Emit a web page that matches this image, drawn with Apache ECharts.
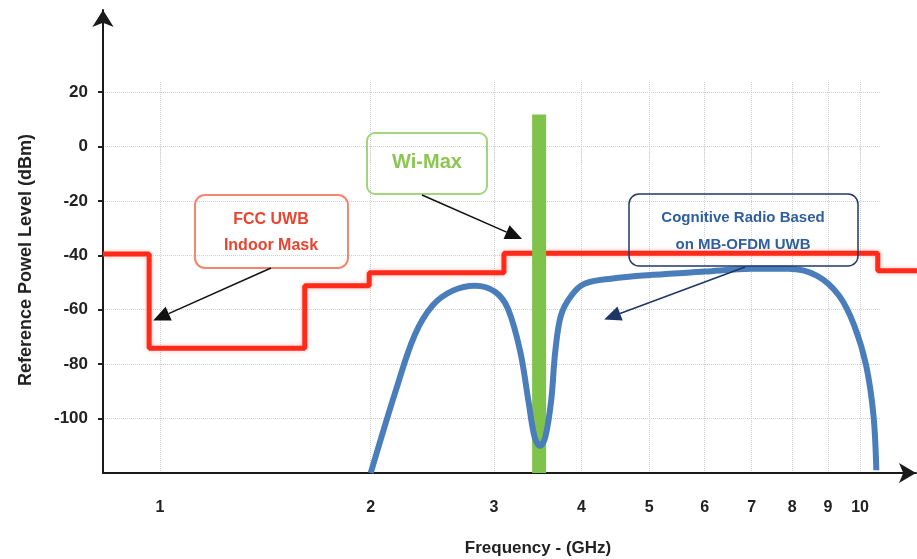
<!DOCTYPE html>
<html><head><meta charset="utf-8">
<script src="https://cdn.jsdelivr.net/npm/echarts@6/dist/echarts.min.js"></script>
<style>html,body{margin:0;padding:0;background:#fff}#c{width:917px;height:559px}</style>
</head><body><div id="c"></div>
<script>
// ---- data ----
const freqTicks = [1, 2, 3, 4, 5, 6, 7, 8, 9, 10];          // GHz
const levelTicks = [-100, -80, -60, -40, -20, 0, 20];        // dBm
// FCC UWB indoor mask (step, value holds until next frequency)
const maskFreq  = [0.829, 0.965, 1.61, 1.99, 3.1, 10.6, 12.1];
const maskLevel = [-39.5, -74.2, -51.2, -46.4, -39.3, -45.7, -45.7];
// Cognitive radio MB-OFDM UWB spectrum
const crFreq  = [2.0, 2.17, 2.31, 2.45, 2.62, 2.82, 3.01, 3.14, 3.27, 3.36, 3.43, 3.49, 3.55, 3.62, 3.67, 3.74, 3.87, 4.04, 4.41, 5.06, 6.0, 7.0, 7.9, 8.67, 9.33, 9.81, 10.2, 10.45, 10.55];
const crLevel = [-120, -90, -69.5, -58.5, -53, -51.2, -53.4, -59.6, -75.3, -93.6, -107, -110, -107, -93.6, -75.3, -62, -54.8, -50.5, -48.6, -47.2, -46, -45, -45, -47.5, -54.8, -65.8, -80.4, -98.7, -119];
// Wi-Max band
const wimaxFreq  = [3.48, 3.48];
const wimaxLevel = [-120, 11.7];

const zip = (a, b) => a.map((v, i) => [v, b[i]]);
const FONT = 'Liberation Sans';
const chart = echarts.init(document.getElementById('c'), null, {renderer: 'canvas'});

const hiddenAxis = (grid) => ({
  type: 'value', gridIndex: grid, min: 0, max: 1, show: true,
  axisLine: {show: false}, axisTick: {show: false}, axisLabel: {show: false}, splitLine: {show: false}
});

const option = {
  animation: false,
  backgroundColor: '#fff',
  grid: [
    {left: 103, right: 0, top: 82, bottom: 86},   // data
    {left: 103, right: 1, top: 10, bottom: 86},   // axis lines with arrows
    {left: 103, right: 37, top: 82, bottom: 86}   // horizontal grid lines
  ],
  xAxis: [
    {
      type: 'log', logBase: 10, gridIndex: 0,
      min: 0.8291, max: 12.06,
      axisLine: {show: false},
      axisTick: {show: true, customValues: freqTicks, length: 18, lineStyle: {color: '#d0d0d0', type: 'dotted'}},
      axisLabel: {customValues: freqTicks, margin: 27, color: '#222', fontFamily: FONT, fontSize: 16, fontWeight: 'bold'},
      splitLine: {show: true, lineStyle: {color: '#cfcfcf', type: 'dotted', width: 1}},
      minorTick: {show: false}, minorSplitLine: {show: false}
    },
    {
      type: 'value', gridIndex: 1, min: 0, max: 1,
      axisLine: {show: true, onZero: false, symbol: ['none', 'arrow'], symbolSize: [15, 17], lineStyle: {color: '#1a1a1a', width: 2}},
      axisTick: {show: false}, axisLabel: {show: false}, splitLine: {show: false}
    },
    hiddenAxis(2)
  ],
  yAxis: [
    {
      type: 'value', gridIndex: 0,
      min: -120, max: 23.66,
      axisLine: {show: false},
      axisTick: {show: true, customValues: levelTicks, length: 5, inside: false, lineStyle: {color: '#222', width: 2}},
      axisLabel: {customValues: levelTicks, margin: 15, color: '#222', fontFamily: FONT, fontSize: 17, fontWeight: 'bold'},
      splitLine: {show: false}
    },
    {
      type: 'value', gridIndex: 1, min: 0, max: 1,
      axisLine: {show: true, onZero: false, symbol: ['none', 'arrow'], symbolSize: [16, 17], lineStyle: {color: '#1a1a1a', width: 2}},
      axisTick: {show: false}, axisLabel: {show: false}, splitLine: {show: false}
    },
    {
      type: 'value', gridIndex: 2, min: -120, max: 23.66,
      axisLine: {show: false}, axisTick: {show: false, customValues: levelTicks}, axisLabel: {show: false, customValues: levelTicks},
      splitLine: {show: true, lineStyle: {color: '#cfcfcf', type: 'dotted', width: 1}}
    }
  ],
  series: [
    {
      name: 'FCC UWB Indoor Mask', type: 'line', xAxisIndex: 0, yAxisIndex: 0,
      data: zip(maskFreq, maskLevel), step: 'end', showSymbol: false, clip: false,
      lineStyle: {color: '#ff2a1a', width: 5, shadowColor: 'rgba(255,60,40,0.35)', shadowBlur: 4},
      z: 2
    },
    {
      name: 'Wi-Max', type: 'line', xAxisIndex: 0, yAxisIndex: 0,
      data: zip(wimaxFreq, wimaxLevel), showSymbol: false, clip: false,
      lineStyle: {color: '#7fc34a', width: 14, cap: 'butt'},
      z: 3
    },
    {
      name: 'Cognitive Radio Based on MB-OFDM UWB', type: 'line', xAxisIndex: 0, yAxisIndex: 0,
      data: zip(crFreq, crLevel), smooth: 0.35, showSymbol: false, clip: false,
      lineStyle: {color: '#4a7ebb', width: 6},
      z: 4
    }
  ]
};
chart.setOption(option);

const px = (f, v) => chart.convertToPixel({xAxisIndex: 0, yAxisIndex: 0}, [f, v]);

function arrow(x1, y1, x2, y2, color, w) {
  const ang = Math.atan2(y2 - y1, x2 - x1);
  const L = 17, H = 7.5;
  const bx = x2 - L * Math.cos(ang), by = y2 - L * Math.sin(ang);
  const nx = -Math.sin(ang), ny = Math.cos(ang);
  return [
    {type: 'line', shape: {x1, y1, x2: bx, y2: by}, style: {stroke: color, lineWidth: w}, z: 20},
    {type: 'polygon', shape: {points: [[x2, y2], [bx + nx * H, by + ny * H], [bx - nx * H, by - ny * H]]}, style: {fill: color}, z: 20}
  ];
}
function box(x, y, w, h, r, stroke, lw) {
  return {type: 'rect', shape: {x, y, width: w, height: h, r}, style: {fill: 'none', stroke, lineWidth: lw}, z: 15};
}
function txt(x, y, t, color, size, rot) {
  return {type: 'text', x, y, rotation: rot || 0, style: {text: t, fill: color, font: 'bold ' + size + 'px "' + FONT + '"', textAlign: 'center', textVerticalAlign: 'middle'}, z: 16};
}

const fccTip = px(0.965, -64);
const wmTip = px(3.48, -34);
const crTip = px(4.31, -63.6);

const graphics = [
  box(195, 195, 153, 73, 10, '#f2866f', 2),
  txt(271, 220, 'FCC UWB', '#e8442f', 16),
  txt(271, 246, 'Indoor Mask', '#e8442f', 16),
  box(367, 133, 120, 61, 8, '#a3d67a', 2),
  txt(427, 162, 'Wi-Max', '#8cc652', 20),
  box(629, 194, 229, 72, 10, '#22396a', 1.5),
  txt(743, 218, 'Cognitive Radio Based', '#2f5f9e', 15),
  txt(743, 245, 'on MB-OFDM UWB', '#2f5f9e', 15),
  txt(538, 548, 'Frequency - (GHz)', '#222', 17),
  txt(26, 260, 'Reference Powel Level (dBm)', '#222', 18, Math.PI / 2)
]
  .concat(arrow(271, 268, fccTip[0] + 4, fccTip[1], '#111', 1.5))
  .concat(arrow(422, 195, wmTip[0] - 17, wmTip[1], '#111', 1.5))
  .concat(arrow(745, 267, crTip[0], crTip[1], '#1f3566', 1.5));

chart.setOption({graphic: graphics});
</script>
</body></html>
